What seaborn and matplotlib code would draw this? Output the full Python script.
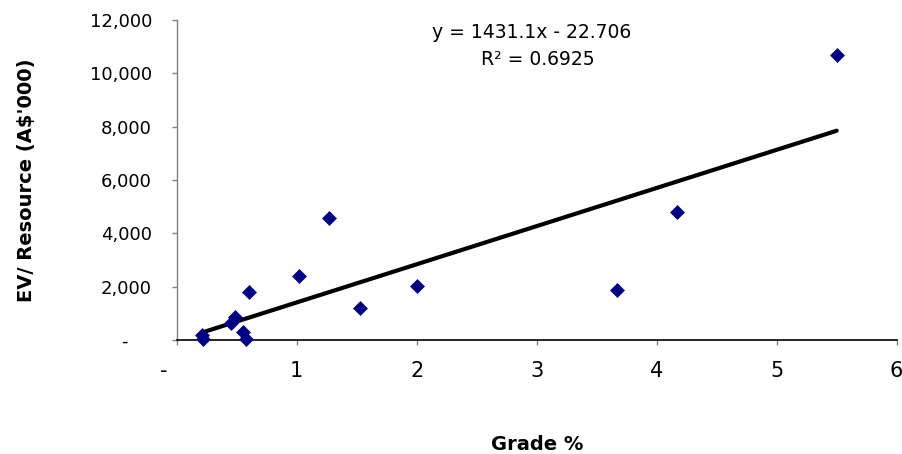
"""EV/Resource vs grade scatter with linear trendline."""

import matplotlib

matplotlib.use("Agg")
import matplotlib.pyplot as plt
import pandas as pd
import seaborn as sns

# values
grade = [0.21, 0.22, 0.45, 0.49, 0.55, 0.58, 0.60, 1.02, 1.27, 1.53, 2.00, 3.67, 4.17, 5.50]
ev_resource = [190, 40, 650, 850, 310, 40, 1790, 2400, 4560, 1200, 2025, 1860, 4790, 10700]

# trendline as printed on the chart
slope = 1431.1
intercept = -22.706
r_squared = 0.6925

x_ticks = [0, 1, 2, 3, 4, 5, 6]
x_tick_labels = ["-    ", "1", "2", "3", "4", "5", "6"]
y_ticks = [0, 2000, 4000, 6000, 8000, 10000, 12000]
y_tick_labels = ["-    ", "2,000", "4,000", "6,000", "8,000", "10,000", "12,000"]

sns.set_style("ticks")
plt.rcParams["font.family"] = ["DejaVu Sans"]
plt.rcParams["text.color"] = "black"
plt.rcParams["axes.labelcolor"] = "black"

df = pd.DataFrame({"grade": grade, "ev": ev_resource})

fig = plt.figure(figsize=(9.02, 4.54), dpi=100)
ax = fig.add_axes([0.1959, 0.2511, 0.7982, 0.7048])

# trendline over the data range
x_line = [min(grade), max(grade)]
trend = pd.DataFrame({"grade": x_line, "ev": [slope * v + intercept for v in x_line]})
sns.lineplot(data=trend, x="grade", y="ev", color="black", linewidth=3, ax=ax, zorder=2)

sns.scatterplot(
    data=df,
    x="grade",
    y="ev",
    marker="D",
    s=50,
    color="#000080",
    edgecolor="#000080",
    linewidth=0.5,
    ax=ax,
    zorder=3,
    clip_on=False,
)

ax.set_xlim(0, 6)
ax.set_ylim(0, 12000)
ax.set_xticks(x_ticks)
ax.set_xticklabels(x_tick_labels, fontsize=15)
ax.set_yticks(y_ticks)
ax.set_yticklabels(y_tick_labels, fontsize=13)

sns.despine(ax=ax)
ax.spines["left"].set_color("#808080")
ax.spines["left"].set_linewidth(1.0)
ax.spines["bottom"].set_color("black")
ax.spines["bottom"].set_linewidth(1.2)
ax.tick_params(axis="y", length=3.8, width=1, color="#808080", labelcolor="black", pad=14)
ax.tick_params(axis="x", length=3.8, width=1, color="#808080", labelcolor="black", pad=11)

ax.set_xlabel("Grade %", fontsize=14, fontweight="bold", va="center")
ax.xaxis.set_label_coords(0.5, -0.328)
ax.set_ylabel("EV/ Resource (A$'000)", fontsize=14, fontweight="bold", va="center")
ax.yaxis.set_label_coords(-0.209, 0.5)

ax.text(2.958, 11313, f"y = {slope}x - {abs(intercept)}", ha="center",
        va="baseline", fontsize=13.5)
ax.text(3.007, 10312, f"R\u00b2 = {r_squared}", ha="center",
        va="baseline", fontsize=13.5)

fig.savefig("out.png", dpi=100)
plt.close(fig)
